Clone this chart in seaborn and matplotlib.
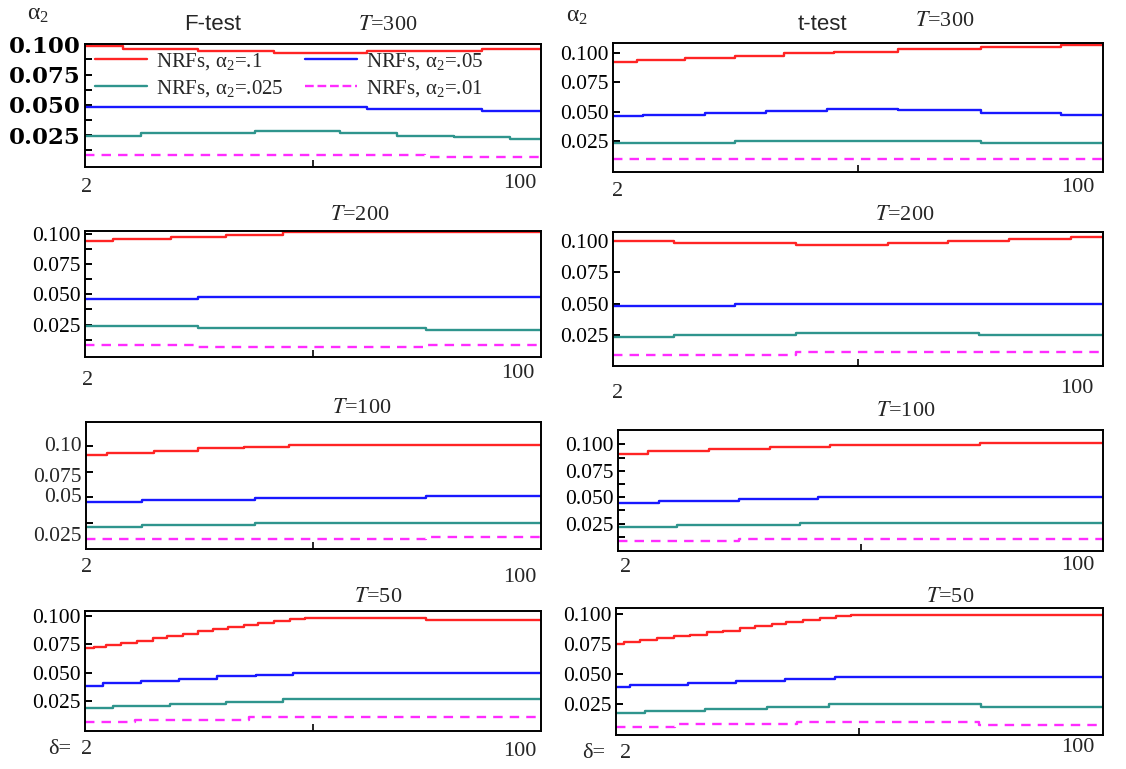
import matplotlib
matplotlib.use("Agg")
import matplotlib.pyplot as plt
import seaborn as sns
from matplotlib.ticker import FixedLocator
from matplotlib.lines import Line2D

# ---------------- data (delta breakpoints, step levels) ----------------
DELTA_LIM = (2, 100)
YTICKS = [0.025, 0.05, 0.075, 0.1]
YTICKLABELS = ["0.025", "0.050", "0.075", "0.100"]
YMINOR = [0.0125, 0.0375, 0.0625, 0.0875]
LEGEND_LABELS = [r"NRFs, $\mathregular{α_2}$=.1", r"NRFs, $\mathregular{α_2}$=.05",
                 r"NRFs, $\mathregular{α_2}$=.025", r"NRFs, $\mathregular{α_2}$=.01"]

# F-test, T=300
F300_red_x = [2, 10.2, 26.3, 42.7, 62.5, 87.3, 100]
F300_red_y = [0.0987, 0.0960, 0.0946, 0.0927, 0.0946, 0.0960, 0.0960]
F300_blue_x = [2, 62.5, 87.3, 100]
F300_blue_y = [0.0486, 0.0467, 0.0453, 0.0453]
F300_teal_x = [2, 14.1, 38.5, 56.8, 69.0, 81.2, 93.4, 100]
F300_teal_y = [0.0247, 0.0266, 0.0282, 0.0266, 0.0247, 0.0233, 0.0217, 0.0217]
F300_mag_x = [2, 75.1, 100]
F300_mag_y = [0.0086, 0.0067, 0.0067]

# t-test, T=300
t300_red_x = [2, 6.7, 16.4, 26.3, 36.2, 46.1, 59, 75.5, 91.6, 100]
t300_red_y = [0.0926, 0.0940, 0.0960, 0.0977, 0.0997, 0.1011, 0.1031, 0.1048, 0.1068, 0.1068]
t300_blue_x = [2, 8, 20.3, 32.6, 44.8, 59, 75.5, 91.6, 100]
t300_blue_y = [0.0461, 0.0475, 0.0492, 0.0509, 0.0526, 0.0512, 0.0492, 0.0475, 0.0475]
t300_teal_x = [2, 26.3, 75.5, 100]
t300_teal_y = [0.0236, 0.0250, 0.0236, 0.0236]
t300_mag_x = [2, 100]
t300_mag_y = [0.0096, 0.0096]

# F-test, T=200
F200_red_x = [2, 8, 20.4, 32.4, 44.6, 100]
F200_red_y = [0.0938, 0.0958, 0.0975, 0.0992, 0.1013, 0.1013]
F200_blue_x = [2, 26.3, 100]
F200_blue_y = [0.0458, 0.0475, 0.0475]
F200_teal_x = [2, 26.3, 75.2, 100]
F200_teal_y = [0.0235, 0.0218, 0.0201, 0.0201]
F200_mag_x = [2, 26.3, 75.2, 100]
F200_mag_y = [0.0080, 0.0063, 0.0080, 0.0080]

# t-test, T=200
t200_red_x = [2, 14.2, 38.5, 56.9, 69.0, 81.2, 93.6, 100]
t200_red_y = [0.1000, 0.0981, 0.0962, 0.0981, 0.1000, 0.1016, 0.1032, 0.1032]
t200_blue_x = [2, 26.3, 100]
t200_blue_y = [0.0482, 0.0501, 0.0501]
t200_teal_x = [2, 14.2, 38.5, 75.2, 100]
t200_teal_y = [0.0234, 0.0250, 0.0266, 0.0250, 0.0250]
t200_mag_x = [2, 38.5, 100]
t200_mag_y = [0.0091, 0.0118, 0.0118]

# F-test, T=100
F100_red_x = [2, 6.6, 16.6, 26.2, 36.0, 45.7, 100]
F100_red_y = [0.0911, 0.0934, 0.0954, 0.0977, 0.0993, 0.1010, 0.1010]
F100_blue_x = [2, 14.1, 38.4, 75.2, 100]
F100_blue_y = [0.0451, 0.0470, 0.0490, 0.0510, 0.0510]
F100_teal_x = [2, 14.1, 38.4, 100]
F100_teal_y = [0.0207, 0.0227, 0.0247, 0.0247]
F100_mag_x = [2, 75.2, 100]
F100_mag_y = [0.0092, 0.0115, 0.0115]
F100_YTICKLABELS = ["0.025", "0.05", "0.075", "0.10"]

# t-test, T=100
t100_red_x = [2, 8.1, 20.3, 32.7, 44.9, 75.2, 100]
t100_red_y = [0.0912, 0.0934, 0.0953, 0.0975, 0.0991, 0.1010, 0.1010]
t100_blue_x = [2, 10.3, 26.5, 42.5, 100]
t100_blue_y = [0.0446, 0.0468, 0.0487, 0.0506, 0.0506]
t100_teal_x = [2, 14.0, 38.8, 100]
t100_teal_y = [0.0220, 0.0239, 0.0258, 0.0258]
t100_mag_x = [2, 26.5, 100]
t100_mag_y = [0.0086, 0.0108, 0.0108]

# F-test, T=50
F50_red_x = [2, 3.9, 6.6, 9.7, 13.1, 16.6, 19.6, 23.1, 26.2, 29.6, 32.7, 36.1, 39.2,
             42.6, 46.1, 49.2, 75.2, 100]
F50_red_y = [0.0715, 0.0730, 0.0745, 0.0763, 0.0783, 0.0804, 0.0822, 0.0843, 0.0864,
             0.0881, 0.0899, 0.0917, 0.0938, 0.0956, 0.0970, 0.0982, 0.0961, 0.0961]
F50_blue_x = [2, 5.8, 14.1, 22.3, 30.4, 38.7, 46.6, 100]
F50_blue_y = [0.0383, 0.0404, 0.0425, 0.0445, 0.0466, 0.0481, 0.0496, 0.0496]
F50_teal_x = [2, 8.0, 20.3, 32.3, 44.6, 100]
F50_teal_y = [0.0190, 0.0207, 0.0224, 0.0242, 0.0262, 0.0262]
F50_mag_x = [2, 12.7, 37.3, 100]
F50_mag_y = [0.0066, 0.0078, 0.0104, 0.0104]

# t-test, T=50
t50_red_x = [2, 3.6, 6.8, 10.2, 13.6, 16.9, 20.3, 23.6, 27.0, 29.9, 33.3, 36.3, 39.6,
             43.0, 46.3, 49.3, 100]
t50_red_y = [0.0744, 0.0766, 0.0779, 0.0793, 0.0810, 0.0826, 0.0843, 0.0859, 0.0878,
             0.0895, 0.0911, 0.0928, 0.0947, 0.0961, 0.0977, 0.0991, 0.0991]
t50_blue_x = [2, 4.8, 16.5, 26.2, 36.1, 46.0, 100]
t50_blue_y = [0.0387, 0.0406, 0.0422, 0.0442, 0.0458, 0.0475, 0.0475]
t50_teal_x = [2, 7.8, 20.0, 32.4, 44.8, 75.4, 100]
t50_teal_y = [0.0172, 0.0189, 0.0208, 0.0224, 0.0244, 0.0224, 0.0224]
t50_mag_x = [2, 13.9, 38.5, 75.0, 100]
t50_mag_y = [0.0057, 0.0076, 0.0093, 0.0073, 0.0073]

# ---------------- styling ----------------
sns.set_theme(style="white")
plt.rcParams.update({
    "font.family": ["Liberation Serif", "DejaVu Serif"],
    "mathtext.fontset": "stix",
    "axes.edgecolor": "black",
    "axes.linewidth": 1.4,
    "axes.facecolor": "white",
    "figure.facecolor": "white",
})

COLORS = {"red": "#ff2424", "blue": "#1818ff", "teal": "#2f958d", "mag": "#ff2cff"}
TICKFS = 15.5
W, H = 1126, 769
fig = plt.figure(figsize=(W / 100, H / 100), dpi=100)


def box(l, t, r, b):
    return [l / W, 1 - b / H, (r - l) / W, (b - t) / H]


def fx(x):
    return x / W


def fy(y):
    return 1 - y / H


def draw_panel(rect, series, ylim, minor, labels=YTICKLABELS, label_kw=None, show_labels=True):
    ax = fig.add_axes(box(*rect))
    for key, xs, ys in series:
        ls = (0, (4, 3)) if key == "mag" else "-"
        sns.lineplot(x=xs, y=ys, ax=ax, color=COLORS[key], linewidth=1.7,
                     linestyle=ls, drawstyle="steps-post", estimator=None,
                     legend=False)
    ax.set_xlim(*DELTA_LIM)
    ax.set_ylim(*ylim)
    ax.set_xlabel("")
    ax.set_ylabel("")
    ax.set_xticks([51])
    ax.tick_params(axis="x", which="both", direction="in", length=5, width=1.4,
                   bottom=True, top=False, labelbottom=False)
    ax.set_yticks(YTICKS)
    if show_labels:
        ax.set_yticklabels(labels, **(label_kw or {"fontsize": TICKFS}))
    else:
        ax.set_yticklabels([])
    ax.tick_params(axis="y", which="both", direction="in", length=5, width=1.4,
                   left=True, right=False, pad=3, colors="black")
    if minor:
        ax.yaxis.set_minor_locator(FixedLocator(YMINOR))
    for s in ax.spines.values():
        s.set_visible(True)
        s.set_color("black")
        s.set_linewidth(1.4)
    return ax


def S(prefix):
    g = globals()
    return [(k, g[f"{prefix}_{k}_x"], g[f"{prefix}_{k}_y"]) for k in ("red", "blue", "teal", "mag")]


axF300 = draw_panel((85, 44, 541, 167), S("F300"), (-0.0012, 0.1002), True,
                    label_kw={"fontsize": 16.5, "fontweight": "bold", "family": "DejaVu Serif"})
axt300 = draw_panel((613, 43, 1103, 172), S("t300"), (-0.0012, 0.1086), False)
axF200 = draw_panel((85, 231, 541, 357), S("F200"), (-0.0019, 0.1025), True)
axt200 = draw_panel((613, 232, 1103, 366), S("t200"), (0.0005, 0.1069), False)
axF100 = draw_panel((86, 422, 541, 549), S("F100"), (-0.0007, 0.1235), False, show_labels=False)
axt100 = draw_panel((618, 430, 1103, 551), S("t100"), (-0.001, 0.1136), True)
axF50 = draw_panel((85, 611, 541, 731), S("F50"), (-0.0017, 0.1044), False)
axt50 = draw_panel((616, 608, 1103, 735), S("t50"), (-0.0012, 0.1047), False)

# F100 labels are drawn shifted as in the original
f100_offsets = [-10, 0, -4, 0]
for v, lab, dy in zip(YTICKS, F100_YTICKLABELS, f100_offsets):
    axF100.annotate(lab, xy=(0, v), xycoords=("axes fraction", "data"),
                    xytext=(-3, dy), textcoords="offset points",
                    ha="right", va="center", fontsize=TICKFS)

# legend
lines = axF300.get_lines()
order = [0, 2, 1, 3]
handles = [Line2D([], [], color=lines[i].get_color(), linewidth=1.7,
                  linestyle=lines[i].get_linestyle()) for i in order]
labels = [LEGEND_LABELS[i] for i in order]
axF300.legend(handles, labels, ncol=2, loc="upper left", frameon=False,
              bbox_to_anchor=(fx(95), fy(51)), bbox_transform=fig.transFigure,
              borderpad=0, borderaxespad=0, handlelength=2.5, handletextpad=0.45,
              columnspacing=1.0, labelspacing=0.3, fontsize=15)

# titles
TXT = dict(ha="center", va="center", fontsize=16)
fig.text(fx(213), fy(25), "F-test", family="Liberation Sans", ha="center", va="center", fontsize=16)
fig.text(fx(822), fy(25), "t-test", family="Liberation Sans", ha="center", va="center", fontsize=16)
for (x, y, s) in [(388, 25, "300"), (945, 21, "300"), (360, 215, "200"), (905, 215, "200"),
                  (362, 409, "100"), (906, 411, "100"), (378, 597, "50"), (950, 598, "50")]:
    fig.text(fx(x), fy(y), r"$T$=" + s, **TXT)

# alpha_2 axis names
fig.text(fx(38), fy(14), r"$\mathregular{α_2}$", ha="center", va="center", fontsize=17)
fig.text(fx(577), fy(16), r"$\mathregular{α_2}$", ha="center", va="center", fontsize=17)

# delta range labels
END = dict(ha="center", va="center", fontsize=16)
for (x, y, s) in [(87, 188, "2"), (520, 183, "100"), (618, 192, "2"), (1078, 187, "100"),
                  (88, 380, "2"), (518, 373, "100"), (618, 394, "2"), (1077, 389, "100"),
                  (87, 568, "2"), (520, 578, "100"), (626, 568, "2"), (1078, 566, "100"),
                  (87, 749, "2"), (520, 752, "100"), (626, 754, "2"), (1078, 748, "100")]:
    fig.text(fx(x), fy(y), s, **END)
fig.text(fx(60), fy(749), "δ=", **END)
fig.text(fx(594), fy(754), "δ=", **END)

fig.savefig("out.png", dpi=100)
